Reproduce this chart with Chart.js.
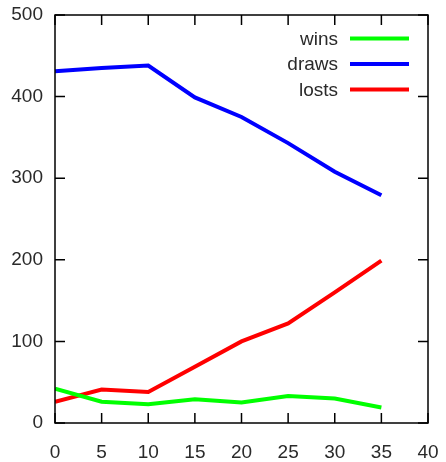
<!DOCTYPE html>
<html>
<head>
<meta charset="utf-8">
<script src="https://cdn.jsdelivr.net/npm/chart.js@4/dist/chart.umd.min.js"></script>
<style>
html,body{margin:0;padding:0;background:#fff;}
#wrap{width:446px;height:462px;}
</style>
</head>
<body>
<div id="wrap"><canvas id="c" width="446" height="462"></canvas></div>
<script>
const xValues = [0, 5, 10, 15, 20, 25, 30, 35];
const wins  = [42, 26, 23, 29, 25, 33, 30, 19];
const draws = [431, 435, 438, 399, 375, 343, 308, 279];
const losts = [26, 41, 38, 69, 100, 122, 160, 199];
const seriesNames = ['wins', 'draws', 'losts'];
const seriesColors = ['#00ff00', '#0000ff', '#ff0000'];
const xTicks = [0, 5, 10, 15, 20, 25, 30, 35, 40];
const yTicks = [0, 100, 200, 300, 400, 500];

const FONT = 'Liberation Sans, Arial, sans-serif';
const TXT = '#2a2a2a';
const FS = 19;

function pts(arr){ return arr.map((v,i)=>({x:xValues[i], y:v})); }

const frame = {
  id: 'frame',
  afterDatasetsDraw(chart){
    const {ctx, chartArea:a, scales:{x, y}} = chart;
    ctx.save();
    ctx.strokeStyle = '#000';
    ctx.lineWidth = 1.5;
    ctx.strokeRect(a.left, a.top, a.right - a.left, a.bottom - a.top);
    const L = 10;
    ctx.beginPath();
    xTicks.forEach(v=>{
      const px = x.getPixelForValue(v);
      ctx.moveTo(px, a.bottom); ctx.lineTo(px, a.bottom - L);
      ctx.moveTo(px, a.top); ctx.lineTo(px, a.top + L);
    });
    yTicks.forEach(v=>{
      const py = y.getPixelForValue(v);
      ctx.moveTo(a.left, py); ctx.lineTo(a.left + L, py);
      ctx.moveTo(a.right, py); ctx.lineTo(a.right - L, py);
    });
    ctx.stroke();
    // legend
    ctx.font = FS + 'px ' + FONT;
    ctx.textAlign = 'right';
    ctx.textBaseline = 'middle';
    const rowY = [38.5, 64, 89.5];
    chart.data.datasets.forEach((ds, i)=>{
      ctx.fillStyle = TXT;
      ctx.fillText(ds.label, 338, rowY[i] + 1);
      ctx.strokeStyle = ds.borderColor;
      ctx.lineWidth = 4;
      ctx.beginPath();
      ctx.moveTo(350, rowY[i]); ctx.lineTo(409, rowY[i]);
      ctx.stroke();
    });
    ctx.restore();
  }
};

new Chart(document.getElementById('c'), {
  type: 'line',
  data: {
    datasets: [
      {label: seriesNames[0], data: pts(wins),  borderColor: seriesColors[0]},
      {label: seriesNames[1], data: pts(draws), borderColor: seriesColors[1]},
      {label: seriesNames[2], data: pts(losts), borderColor: seriesColors[2]}
    ].map(d=>Object.assign(d, {borderWidth:4, pointRadius:0, tension:0, fill:false, borderCapStyle:'butt'}))
  },
  options: {
    responsive: false,
    animation: false,
    devicePixelRatio: 1,
    layout: {padding: {top: 15, right: 18, left: 0, bottom: 0}},
    plugins: {legend: {display: false}, tooltip: {enabled: false}},
    scales: {
      x: {
        type: 'linear', min: 0, max: 40,
        afterBuildTicks(s){ s.ticks = xTicks.map(v=>({value:v})); },
        afterFit(s){ s.height = 39; s.paddingLeft = 0; s.paddingRight = 0; },
        grid: {display: false, drawTicks: false},
        border: {display: false},
        ticks: {padding: 18, maxRotation: 0, color: TXT, font: {family: FONT, size: FS}}
      },
      y: {
        min: 0, max: 500,
        afterBuildTicks(s){ s.ticks = yTicks.map(v=>({value:v})); },
        afterFit(s){ s.width = 55; s.paddingTop = 0; s.paddingBottom = 0; },
        grid: {display: false, drawTicks: false},
        border: {display: false},
        ticks: {padding: 12, color: TXT, font: {family: FONT, size: FS}}
      }
    }
  },
  plugins: [frame]
});
</script>
</body>
</html>
